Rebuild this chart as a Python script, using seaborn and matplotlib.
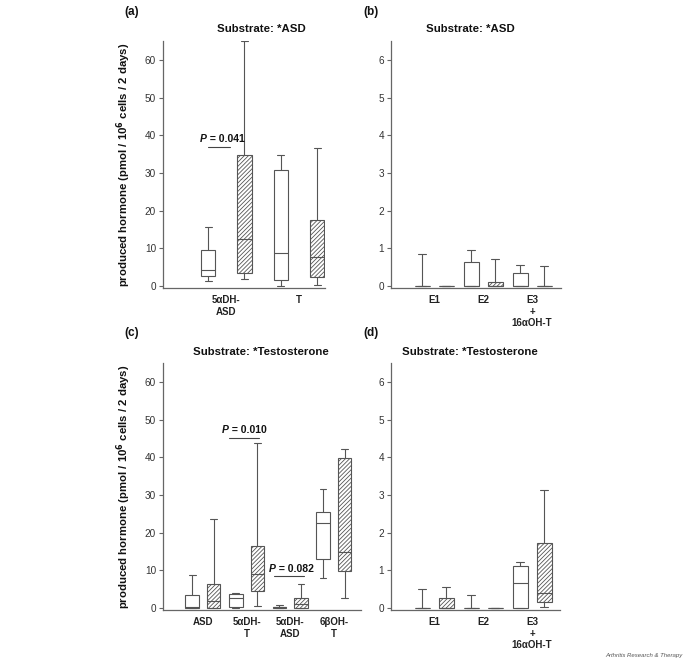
import numpy as np
import pandas as pd
import seaborn as sns
import matplotlib.pyplot as plt

sns.set_theme(style="white")
plt.rcParams['font.family'] = ['Liberation Sans', 'DejaVu Sans']
plt.rcParams['hatch.color'] = '#666666'
plt.rcParams['hatch.linewidth'] = 0.6

# ---- data: five-number summaries [min, q1, median, q3, max] ----
a_cats = ["5\u03b1DH-\nASD", "T"]
a_open = [[1.4, 2.7, 4.2, 9.7, 15.7], [0.0, 1.7, 8.8, 30.9, 34.9]]
a_hatch = [[1.9, 3.5, 12.4, 34.9, 65.0], [0.4, 2.5, 7.7, 17.4, 36.7]]

b_cats = ["E1", "E2", "E3\n+\n16\u03b1OH-T"]
b_open = [[0, 0, 0, 0, 0.86], [0, 0, 0, 0.64, 0.95], [0, 0, 0, 0.35, 0.57]]
b_hatch = [[0, 0, 0, 0, 0], [0, 0, 0, 0.10, 0.73], [0, 0, 0, 0, 0.54]]

c_cats = ["ASD", "5\u03b1DH-\nT", "5\u03b1DH-\nASD", "6\u03b2OH-\nT"]
c_open = [[0, 0, 0.3, 3.4, 8.9], [0.1, 0.3, 2.6, 3.7, 3.9],
          [0, 0, 0.2, 0.4, 0.7], [8.1, 13.0, 22.6, 25.6, 31.6]]
c_hatch = [[0, 0, 1.8, 6.3, 23.6], [0.5, 4.6, 9.1, 16.4, 43.7],
           [0, 0, 1.2, 2.6, 6.3], [2.8, 9.8, 15.0, 39.8, 42.2]]

d_cats = ["E1", "E2", "E3\n+\n16\u03b1OH-T"]
d_open = [[0, 0, 0, 0, 0.51], [0, 0, 0, 0, 0.35], [0, 0, 0.67, 1.11, 1.22]]
d_hatch = [[0, 0, 0, 0.28, 0.56], [0, 0, 0, 0, 0], [0.02, 0.16, 0.40, 1.73, 3.14]]

groups = ["open", "hatched"]
yticks_big = [0, 10, 20, 30, 40, 50, 60]
yticks_small = [0, 1, 2, 3, 4, 5, 6]

ylabel = r"produced hormone (pmol / 10$^{\bf 6}$ cells / 2 days)"
LC = '#555555'


def build(cats, open_s, hatch_s):
    rows = []
    for c, o, h in zip(cats, open_s, hatch_s):
        for v in o:
            rows.append((c, groups[0], v))
        for v in h:
            rows.append((c, groups[1], v))
    return pd.DataFrame(rows, columns=["cat", "grp", "val"])


def draw(ax, cats, open_s, hatch_s, width, gap, xlim, ylim, yticks):
    df = build(cats, open_s, hatch_s)
    sns.boxplot(data=df, x="cat", y="val", hue="grp", order=cats,
                hue_order=groups, palette={"open": "white", "hatched": "white"},
                linecolor=LC, linewidth=0.8, width=width, gap=gap,
                whis=(0, 100), showfliers=False, legend=False, ax=ax)
    for p in ax.patches:
        try:
            xs = p.get_path().vertices[:, 0]
        except Exception:
            continue
        xc = (xs.min() + xs.max()) / 2
        if xc > round(xc) + 1e-6:
            p.set_hatch('////////')
            p.set_edgecolor(LC)
    ax.set_xlim(*xlim)
    ax.set_ylim(*ylim)
    ax.set_yticks(yticks)
    ax.set_xlabel("")
    ax.set_ylabel("")
    sns.despine(ax=ax)
    for s in ("left", "bottom"):
        ax.spines[s].set_color('#666666')
        ax.spines[s].set_linewidth(0.9)
    ax.tick_params(axis='x', length=0, pad=5, labelsize=7, labelcolor='#222222')
    ax.tick_params(axis='y', left=True, length=3, width=0.8, color='#666666',
                   pad=2, labelsize=7.2, labelcolor='#333333')
    for t in ax.get_xticklabels():
        t.set_fontweight('bold')
    ax.grid(False)


def pval(ax, x_split, y_text, x0, x1, y_line, label):
    ax.text(x_split, y_text, "P", fontsize=7.5, fontweight='bold', style='italic',
            ha='right', va='center', color='#111111')
    ax.text(x_split, y_text, " = " + label, fontsize=7.5, fontweight='bold',
            ha='left', va='center', color='#111111')
    ax.plot([x0, x1], [y_line, y_line], color='#444444', lw=0.8)


W, H = 685, 661
fig = plt.figure(figsize=(W / 100, H / 100), dpi=100)


def axes_px(l, r, t, b):
    return fig.add_axes([l / W, 1 - b / H, (r - l) / W, (b - t) / H])


ax_a = axes_px(163, 325, 41, 288)
ax_b = axes_px(391, 561, 41, 288)
ax_c = axes_px(163, 361, 363, 610)
ax_d = axes_px(391, 560, 363, 610)

draw(ax_a, a_cats, a_open, a_hatch, 1.0, 0.606, (-0.87, 1.357), (-0.5, 65), yticks_big)
draw(ax_b, b_cats, b_open, b_hatch, 0.98, 0.375, (-0.878, 2.59), (-0.05, 6.5), yticks_small)
draw(ax_c, c_cats, c_open, c_hatch, 0.99, 0.376, (-0.915, 3.62), (-0.5, 65), yticks_big)
draw(ax_d, d_cats, d_open, d_hatch, 0.98, 0.375, (-0.878, 2.57), (-0.05, 6.5), yticks_small)

for ax in (ax_a, ax_c):
    ax.set_ylabel(ylabel, fontsize=8.2, fontweight='bold', color='#111111')
ax_a.yaxis.set_label_coords((133 - 163) / 162, 0.5)
ax_c.yaxis.set_label_coords((133 - 163) / 198, 0.5)

ax_a.text(0.605, 1.049, "Substrate: *ASD", transform=ax_a.transAxes, ha='center',
          va='center', fontsize=8.2, fontweight='bold', color='#111111')
ax_b.text(0.465, 1.049, "Substrate: *ASD", transform=ax_b.transAxes, ha='center',
          va='center', fontsize=8.2, fontweight='bold', color='#111111')
ax_c.text(0.495, 1.045, "Substrate: *Testosterone", transform=ax_c.transAxes, ha='center',
          va='center', fontsize=8.2, fontweight='bold', color='#111111')
ax_d.text(0.467, 1.045, "Substrate: *Testosterone", transform=ax_d.transAxes, ha='center',
          va='center', fontsize=8.2, fontweight='bold', color='#111111')

pval(ax_a, -0.265, 38.9, -0.25, 0.05, 37.0, "0.041")
pval(ax_c, 0.595, 47.2, 0.595, 1.28, 45.2, "0.010")
pval(ax_c, 1.67, 10.3, 1.625, 2.31, 8.5, "0.082")

for lab, x, y in (("(a)", 132, 12), ("(b)", 371, 12), ("(c)", 132, 333), ("(d)", 371, 333)):
    fig.text(x / W, 1 - y / H, lab, ha='center', va='center', fontsize=8.5,
             fontweight='bold', color='#111111')

fig.text(683 / W, 1 - 656 / H, "Arthritis Research & Therapy", ha='right', va='center',
         fontsize=4.3, style='italic', color='#555555')

fig.savefig("out.png", dpi=100)
